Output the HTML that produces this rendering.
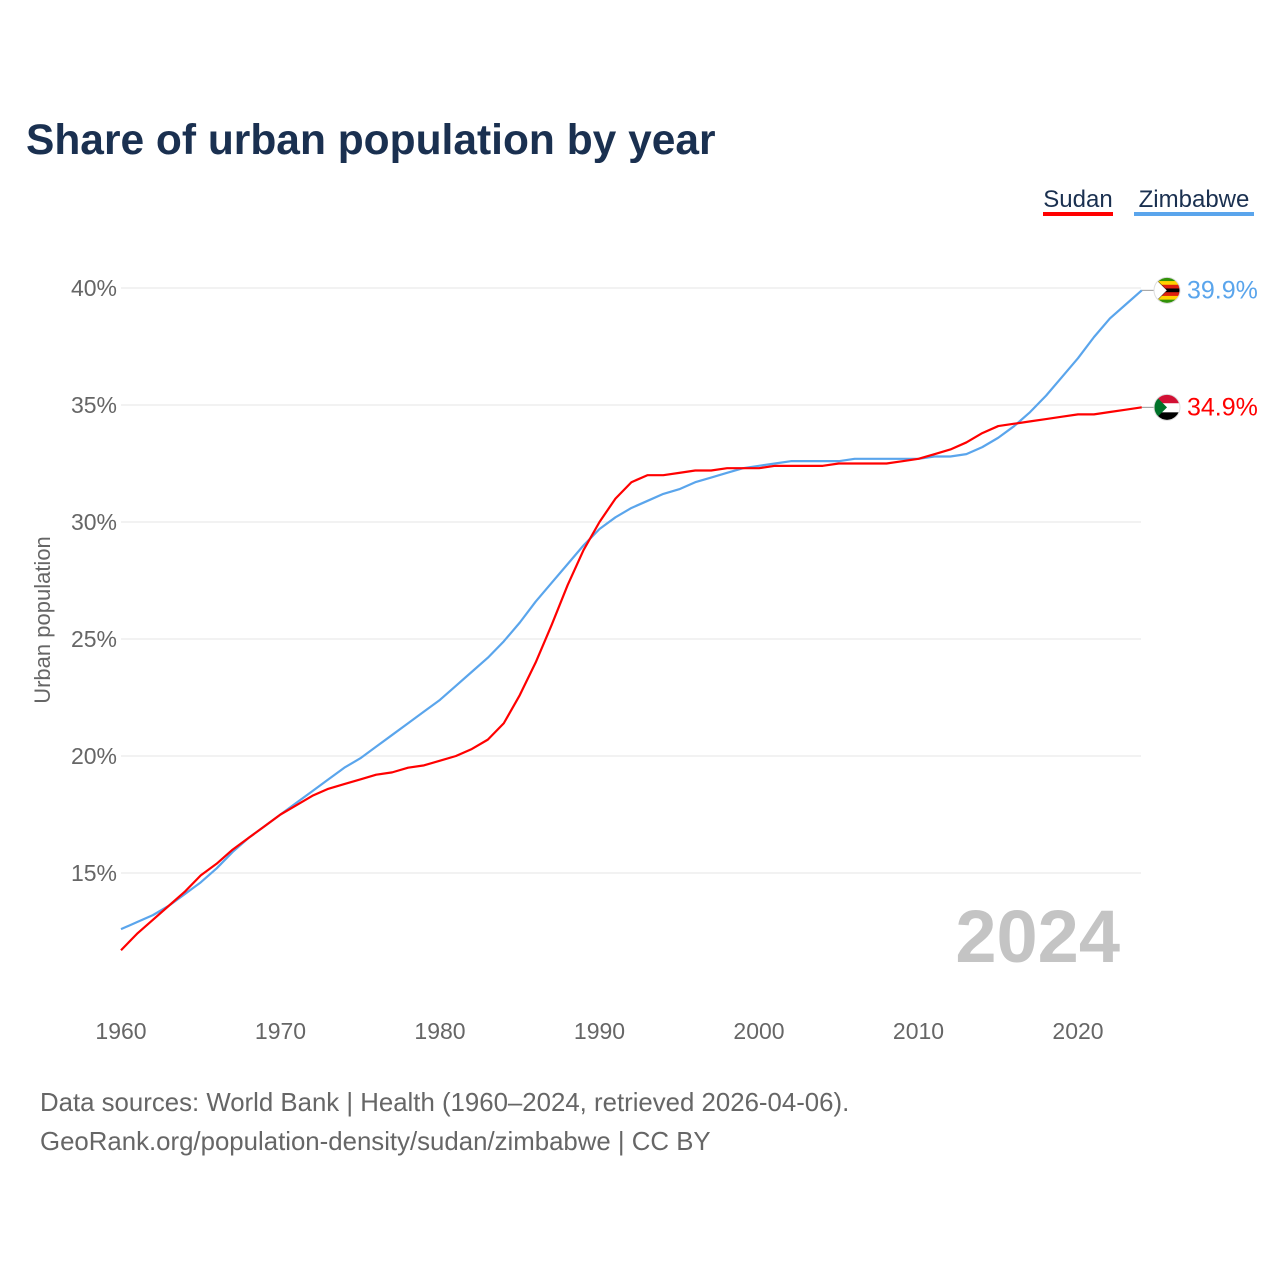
<!DOCTYPE html>
<html><head><meta charset="utf-8"><style>
body{margin:0;background:#fff;font-family:"Liberation Sans",sans-serif;}
svg text{font-family:"Liberation Sans",sans-serif;}
</style></head><body>
<svg width="1280" height="1280" viewBox="0 0 1280 1280">
<text x="26" y="154" font-size="42.5" font-weight="bold" fill="#1a3050">Share of urban population by year</text>
<g><text x="1078" y="207" font-size="24" fill="#1a3050" text-anchor="middle">Sudan</text><rect x="1043" y="212" width="70" height="4" fill="#ff0000"/></g>
<g><text x="1194" y="207" font-size="24" fill="#1a3050" text-anchor="middle">Zimbabwe</text><rect x="1134" y="212" width="120" height="4" fill="#5aa5ec"/></g>
<g id="grid"></g><g id="yt"></g><g id="xt"></g>
<text transform="translate(50,620) rotate(-90)" font-size="22" fill="#666" text-anchor="middle">Urban population</text>
<text x="1120" y="962" font-size="74" font-weight="bold" fill="#c4c4c4" text-anchor="end">2024</text>
<defs>
<clipPath id="c1"><circle cx="1167" cy="0" r="13"/></clipPath>
</defs>
<g id="lines"></g>
<text x="40" y="1111" font-size="25.8" fill="#666">Data sources: World Bank | Health (1960–2024, retrieved 2026-04-06).</text>
<text x="40" y="1150" font-size="25.8" fill="#666">GeoRank.org/population-density/sudan/zimbabwe | CC BY</text>
</svg>
<script>
const years=[];for(let y=1960;y<=2024;y++)years.push(y);
const sudan=[11.7,12.4,13.0,13.6,14.2,14.9,15.4,16.0,16.5,17.0,17.5,17.9,18.3,18.6,18.8,19.0,19.2,19.3,19.5,19.6,19.8,20.0,20.3,20.7,21.4,22.6,24.0,25.6,27.3,28.8,30.0,31.0,31.7,32.0,32.0,32.1,32.2,32.2,32.3,32.3,32.3,32.4,32.4,32.4,32.4,32.5,32.5,32.5,32.5,32.6,32.7,32.9,33.1,33.4,33.8,34.1,34.2,34.3,34.4,34.5,34.6,34.6,34.7,34.8,34.9];
const zimbabwe=[12.6,12.9,13.2,13.6,14.1,14.6,15.2,15.9,16.5,17.0,17.5,18.0,18.5,19.0,19.5,19.9,20.4,20.9,21.4,21.9,22.4,23.0,23.6,24.2,24.9,25.7,26.6,27.4,28.2,29.0,29.7,30.2,30.6,30.9,31.2,31.4,31.7,31.9,32.1,32.3,32.4,32.5,32.6,32.6,32.6,32.6,32.7,32.7,32.7,32.7,32.7,32.8,32.8,32.9,33.2,33.6,34.1,34.7,35.4,36.2,37.0,37.9,38.7,39.3,39.9];
const yTicks=[15,20,25,30,35,40];
const xTicks=[1960,1970,1980,1990,2000,2010,2020];
const X=y=>121+(y-1960)*15.95, Y=v=>288+(40-v)*23.4;
const NS="http://www.w3.org/2000/svg";
function mk(t,a,p){const e=document.createElementNS(NS,t);for(const k in a)e.setAttribute(k,a[k]);p.appendChild(e);return e;}
const g=document.getElementById('grid'),yt=document.getElementById('yt'),xt=document.getElementById('xt'),L=document.getElementById('lines');
yTicks.forEach(v=>{
const l=mk('line',{x1:121,x2:1141,y1:Y(v),y2:Y(v),stroke:'#e6e6e6','stroke-width':1},g);


const t=mk('text',{x:117,y:Y(v)+8,'font-size':23,fill:'#666','text-anchor':'end'},yt);t.textContent=v+'%';


});
xTicks.forEach(v=>{
const t=mk('text',{x:X(v),y:1039,'font-size':23,fill:'#666','text-anchor':'middle'},xt);t.textContent=v;


});
function series(d,c,name){
const p=mk('polyline',{points:d.map((v,i)=>X(years[i])+','+Y(v)).join(' '),fill:'none',stroke:c,'stroke-width':2.2,'stroke-linejoin':'round'},L);


const last=d[d.length-1],ly=Y(last);
mk('line',{x1:X(2024),x2:1155,y1:ly,y2:ly,stroke:'#999','stroke-width':1},L);
const f=mk('g',{'clip-path':'url(#c1)',transform:'translate(0,'+ly+')'},L);


if(name==='sudan'){
mk('rect',{x:1154,y:-13,width:26,height:9,fill:'#d21034'},f);
mk('rect',{x:1154,y:-4,width:26,height:9,fill:'#fff'},f);
mk('rect',{x:1154,y:5,width:26,height:9,fill:'#000'},f);
mk('polygon',{points:'1154,-13 1167,0 1154,13',fill:'#007229'},f);
}else{
const cols=['#319208','#ffd200','#de2010','#000','#de2010','#ffd200','#319208'];
cols.forEach((cc,i)=>mk('rect',{x:1154,y:-13+i*26/7,width:26,height:26/7+0.5,fill:cc},f));
mk('polygon',{points:'1154,-13 1167,0 1154,13',fill:'#fff',stroke:'#000','stroke-width':0.5},f);
}
mk('circle',{cx:1167,cy:ly,r:13,fill:'none',stroke:'#ddd','stroke-width':1},L);
const t=mk('text',{x:1187,y:ly+8,'font-size':25,fill:c},L);t.textContent=last.toFixed(1)+'%';


}
series(zimbabwe,'#5aa5ec','zimbabwe');
series(sudan,'#ff0000','sudan');
</script>
</body></html>
